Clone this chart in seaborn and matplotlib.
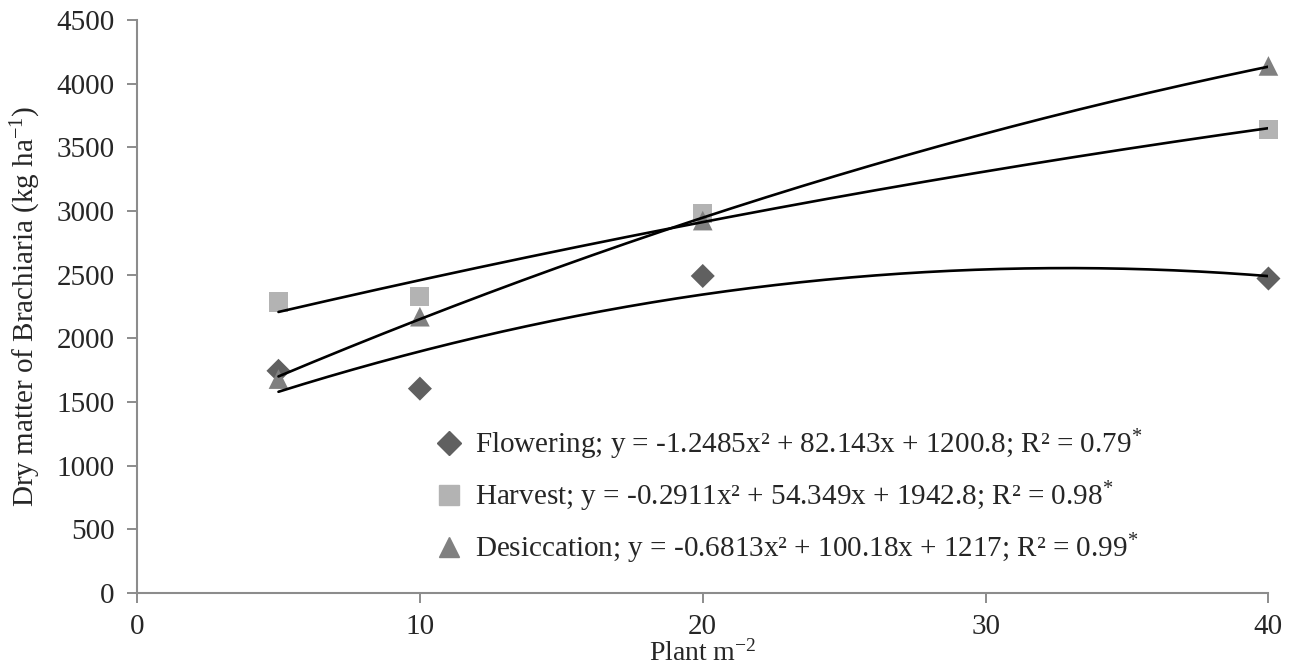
import numpy as np
import pandas as pd
import matplotlib.pyplot as plt
import seaborn as sns
from matplotlib.lines import Line2D

# values
density = [5, 10, 20, 40]
flowering = [1745, 1605, 2490, 2470]
harvest = [2285, 2330, 2980, 3640]
desiccation = [1680, 2170, 2925, 4140]

stages = ["Flowering", "Harvest", "Desiccation"]
# quadratic fits printed in the legend (a, b, c)
coef_flowering = [-1.2485, 82.143, 1200.8]
coef_harvest = [-0.2911, 54.349, 1942.8]
coef_desiccation = [-0.6813, 100.18, 1217]
r2 = ["0.79", "0.98", "0.99"]

colors = {"Flowering": "#606060", "Harvest": "#b3b3b3", "Desiccation": "#808080"}
markers = {"Flowering": "D", "Harvest": "s", "Desiccation": "^"}
sizes = {"Flowering": 150, "Harvest": 190, "Desiccation": 200}

df = pd.DataFrame({
    "Plant": density * 3,
    "DM": flowering + harvest + desiccation,
    "Stage": np.repeat(stages, len(density)),
})

sns.set_style("white")
plt.rcParams["font.family"] = ["Liberation Serif", "DejaVu Serif"]
plt.rcParams["mathtext.fontset"] = "custom"
plt.rcParams["mathtext.rm"] = "Liberation Serif"
plt.rcParams["mathtext.it"] = "Liberation Serif"

fig, ax = plt.subplots(figsize=(12.93, 6.70), dpi=100)
fig.subplots_adjust(left=0.106, right=0.981, bottom=0.115, top=0.970)

for st in stages:
    sub = df[df["Stage"] == st]
    sns.scatterplot(data=sub, x="Plant", y="DM", marker=markers[st], color=colors[st],
                    s=sizes[st], edgecolor="none", ax=ax, legend=False, zorder=2)
for coll in ax.collections:
    coll.set_clip_on(False)

# trend lines
xs = np.linspace(5, 40, 200)
for coef in [coef_flowering, coef_harvest, coef_desiccation]:
    sns.lineplot(x=xs, y=np.polyval(coef, xs), color="black", lw=1.9, ax=ax, zorder=3)

ax.set_xlim(0, 40)
ax.set_ylim(0, 4500)
ax.set_xticks([0, 10, 20, 30, 40])
ax.set_yticks(np.arange(0, 4501, 500))
ax.tick_params(axis="both", labelsize=21, direction="out", length=7, width=1.4,
               color="#8c8c8c", bottom=True, left=True)
ax.tick_params(axis="y", pad=9)
ax.tick_params(axis="x", pad=8)
for s in ["top", "right"]:
    ax.spines[s].set_visible(False)
for s in ["left", "bottom"]:
    ax.spines[s].set_color("#8c8c8c")
    ax.spines[s].set_linewidth(1.5)

ax.set_xlabel(r"Plant m$^{-2}$", fontsize=20, labelpad=0)
ax.set_ylabel(r"Dry matter of Brachiaria (kg ha$^{-1}$)", fontsize=21, labelpad=10)

labels = []
for st, coef, r in zip(stages, [coef_flowering, coef_harvest, coef_desiccation], r2):
    a, b, c = coef
    labels.append(f"{st}; y = {a:g}x² + {b:g}x + {c:g}; R² = {r}" + r"$^{*}$")
handles = [Line2D([], [], ls="none", marker=markers[st], color=colors[st],
                  markersize={"Flowering": 12, "Harvest": 14, "Desiccation": 14}[st])
           for st in stages]
ax.legend(handles, labels, loc="upper left", bbox_to_anchor=(0.237, 0.335), frameon=False,
          fontsize=21, handletextpad=0.3, labelspacing=0.6, handlelength=1.2)

plt.savefig("out.png", dpi=100)
